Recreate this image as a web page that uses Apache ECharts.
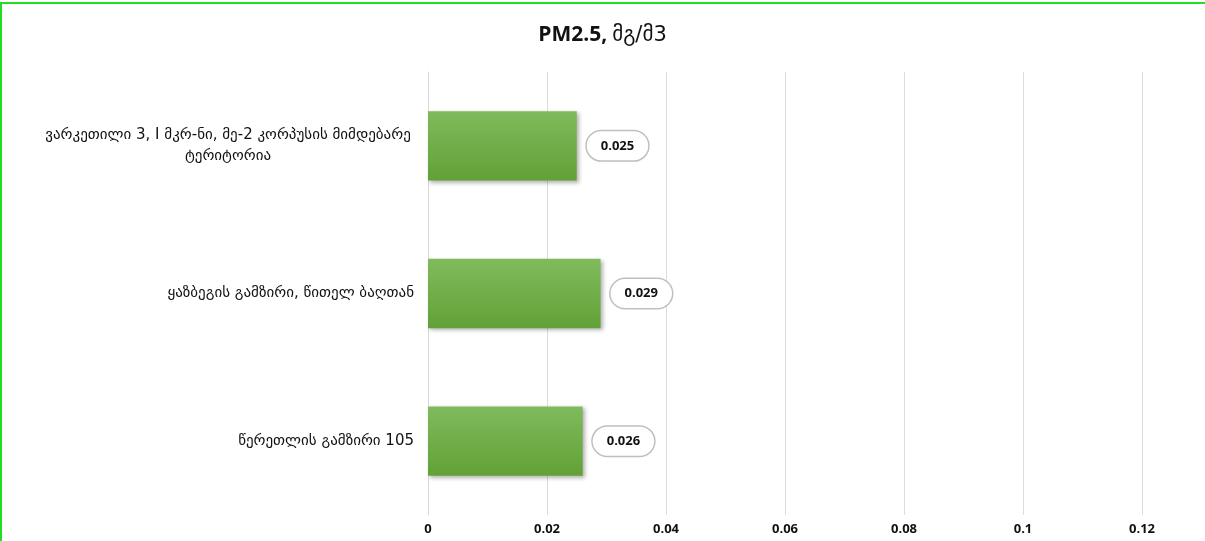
<!DOCTYPE html>
<html>
<head>
<meta charset="utf-8">
<script src="https://cdn.jsdelivr.net/npm/echarts@6/dist/echarts.min.js"></script>
<style>
  html, body { margin: 0; padding: 0; background: #fff; }
  #frame { position: absolute; left: 0; top: 2px; width: 1300px; height: 600px; border-left: 2px solid #22dd22; border-top: 2px solid #22dd22; }
  #chart { position: absolute; left: 0; top: 0; width: 1205px; height: 541px; }
</style>
</head>
<body>
<div id="frame"></div>
<div id="chart"></div>
<script>
  // categories top to bottom
  var categories = [
    'ვარკეთილი 3, I მკრ-ნი, მე-2 კორპუსის მიმდებარე\nტერიტორია',
    'ყაზბეგის გამზირი, წითელ ბაღთან',
    'წერეთლის გამზირი 105'
  ];
  var values = [0.025, 0.029, 0.026];
  var ticks = [0, 0.02, 0.04, 0.06, 0.08, 0.1, 0.12];

  document.addEventListener("DOMContentLoaded", () => {
    var chart = echarts.init(document.getElementById('chart'));
    chart.setOption({
      animation: false,
      title: {
        text: '{b|PM2.5,} {n|მგ/მ3}',
        left: 'center',
        top: 20,
        textStyle: {
          rich: {
            b: { fontFamily: 'Open Sans', fontWeight: 'bold', fontSize: 21, color: '#111' },
            n: { fontFamily: 'DejaVu Sans', fontWeight: 'normal', fontSize: 21, color: '#111' }
          }
        }
      },
      grid: { left: 428, right: 63, top: 72, bottom: 26 },
      xAxis: {
        type: 'value',
        min: ticks[0],
        max: ticks[ticks.length - 1],
        interval: 0.02,
        axisLine: { show: false },
        axisTick: { show: false },
        splitLine: { lineStyle: { color: '#dcdcdc' } },
        axisLabel: {
          fontFamily: 'Open Sans', fontWeight: 'bold', fontSize: 13, color: '#111', margin: 8
        }
      },
      yAxis: {
        type: 'category',
        inverse: true,
        data: categories.map(function (c, i) {
          return i === 0
            ? { value: c, textStyle: { align: 'center', padding: [0, 372, 0, 0] } }
            : c;
        }),
        axisLine: { lineStyle: { color: '#d9d9d9' } },
        axisTick: { show: false },
        axisLabel: { fontFamily: 'DejaVu Sans', fontSize: 15, color: '#111', margin: 14, lineHeight: 21 }
      },
      series: [{
        type: 'bar',
        data: values,
        barWidth: '47%',
        itemStyle: {
          color: new echarts.graphic.LinearGradient(0, 0, 0, 1, [
            { offset: 0, color: '#7fbb5c' },
            { offset: 1, color: '#62a136' }
          ]),
          shadowColor: 'rgba(0,0,0,0.3)',
          shadowBlur: 4,
          shadowOffsetX: 2,
          shadowOffsetY: 2
        },
        label: {
          show: true,
          position: 'right',
          distance: 10,
          formatter: function (p) { return p.value.toFixed(3); },
          fontFamily: 'Open Sans',
          fontWeight: 'bold',
          fontSize: 13,
          color: '#111',
          backgroundColor: '#fff',
          borderColor: '#bfbfbf',
          borderWidth: 1.5,
          borderRadius: 16,
          padding: [8, 14, 8, 14]
        }
      }]
    });
  });
</script>
</body>
</html>
